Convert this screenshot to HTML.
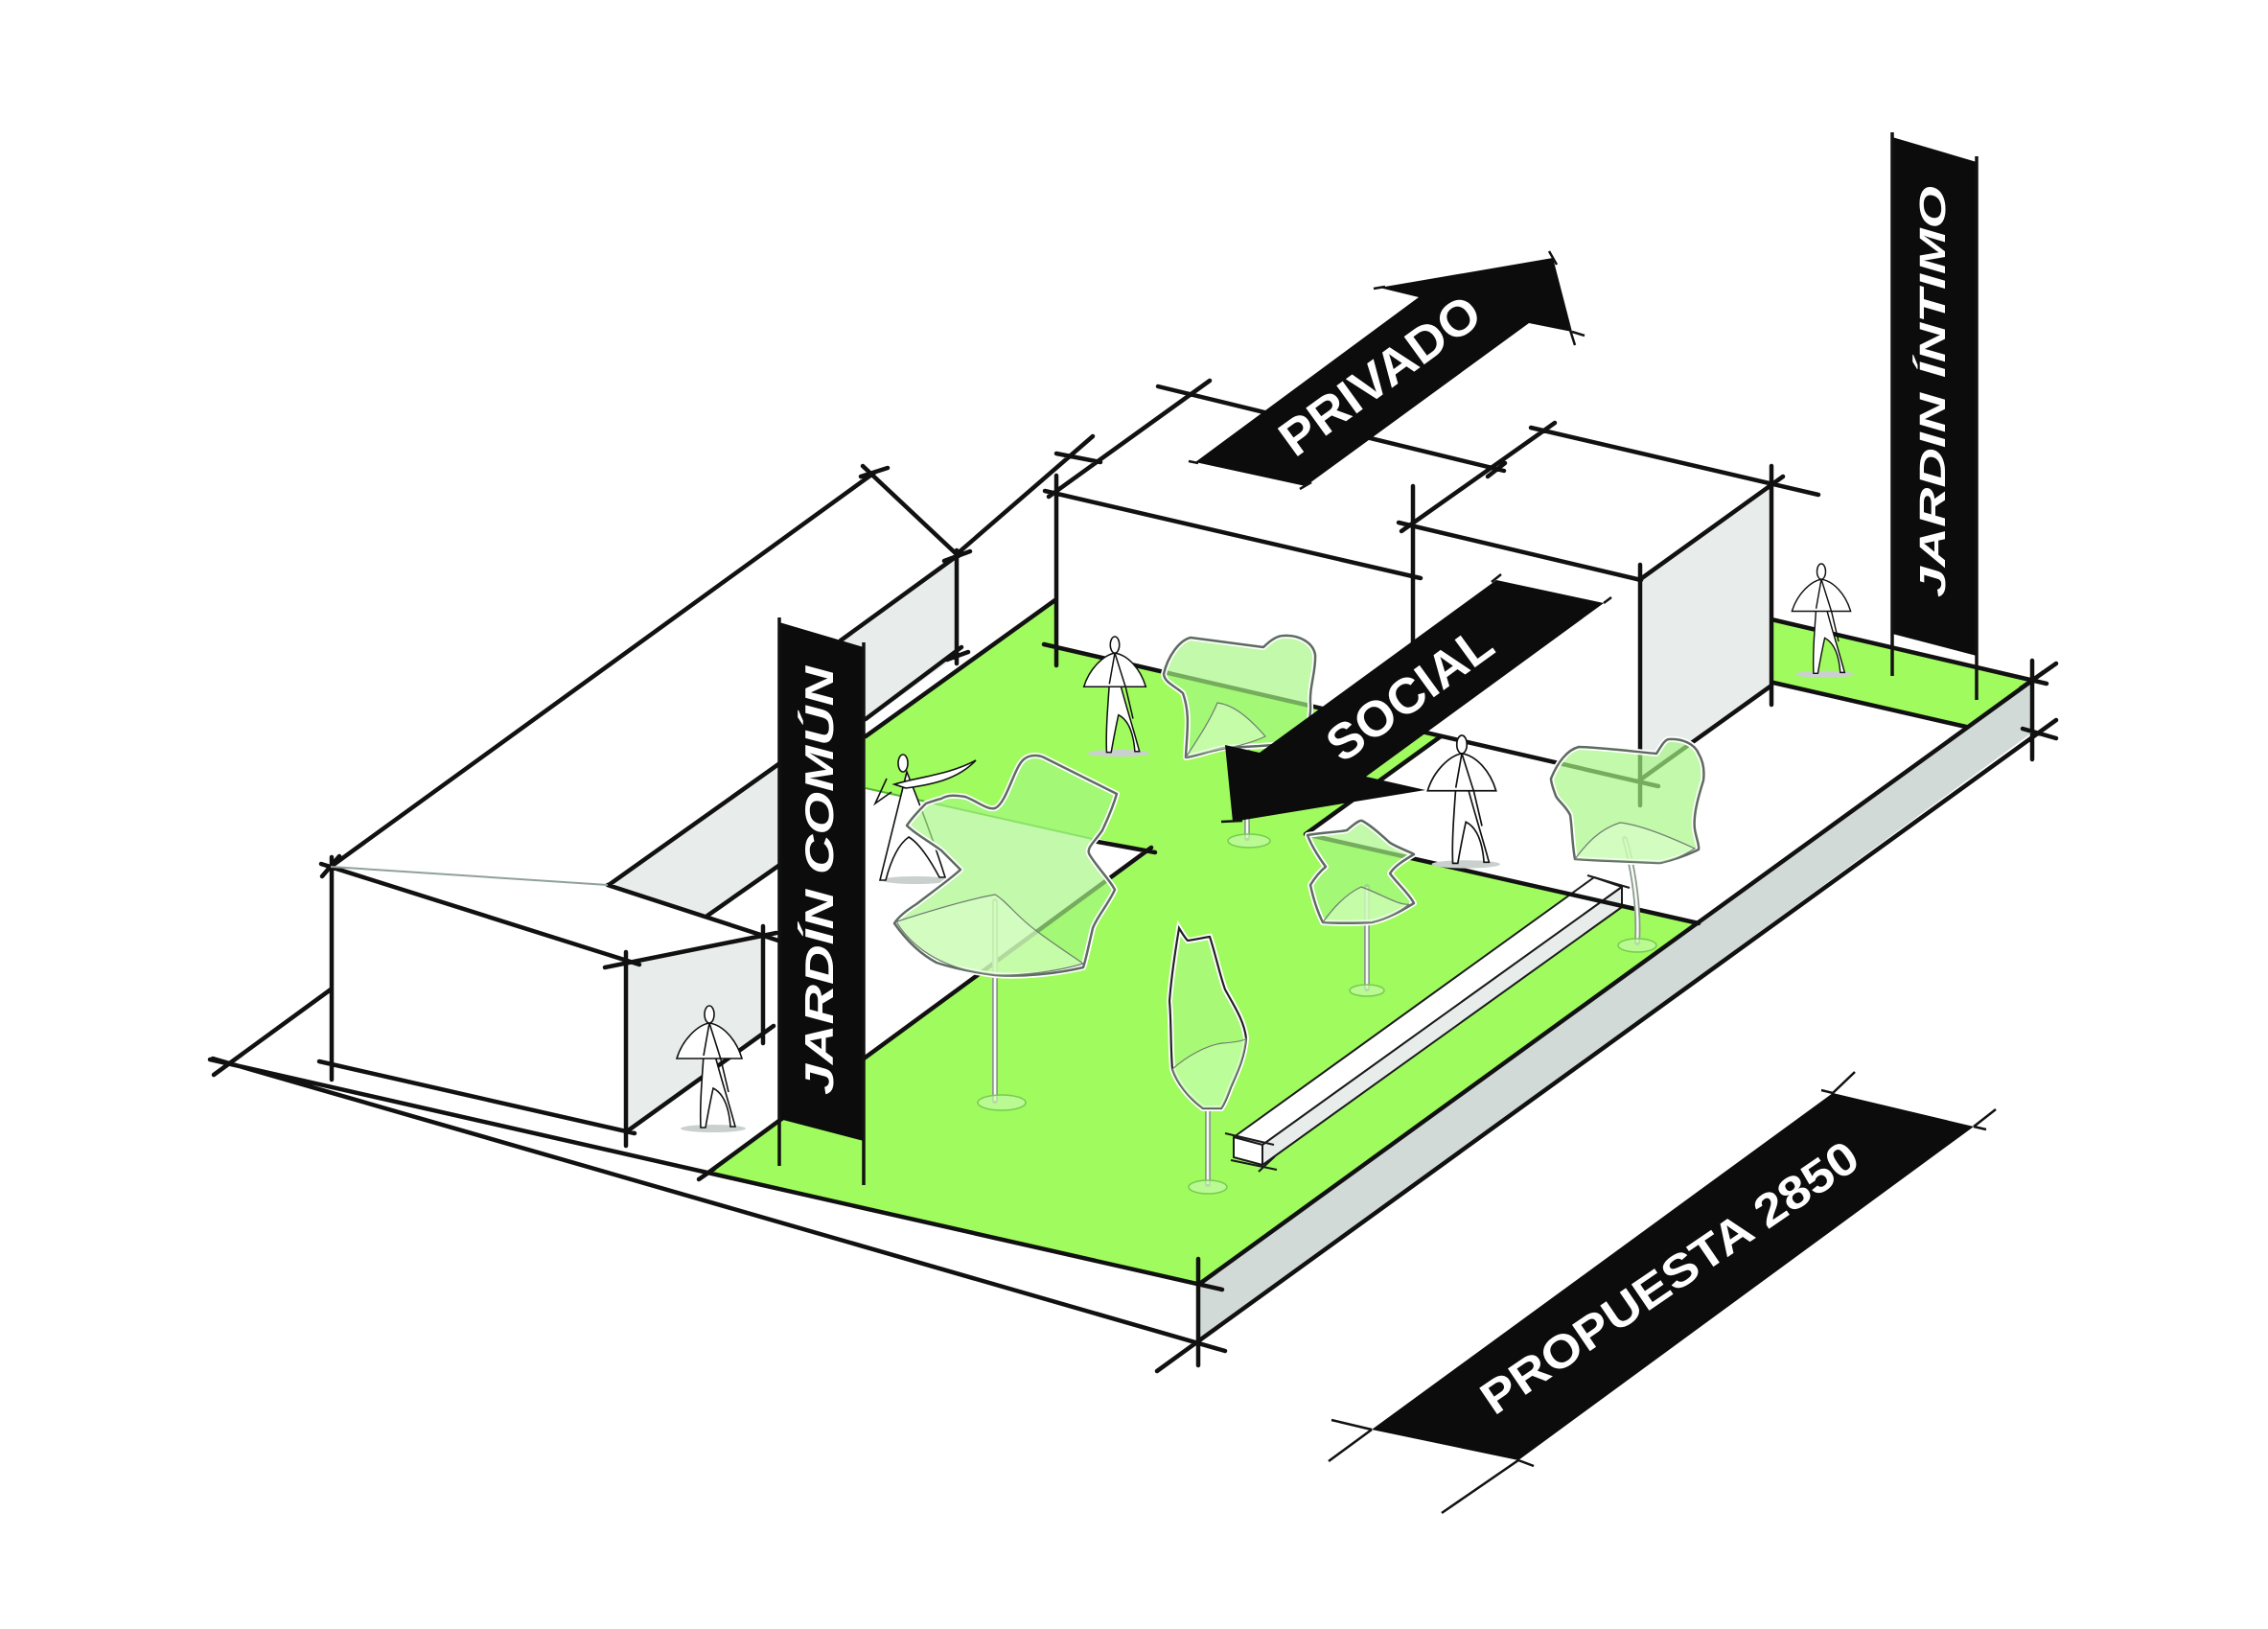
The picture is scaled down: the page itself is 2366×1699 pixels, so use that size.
<!DOCTYPE html>
<html>
<head>
<meta charset="utf-8">
<style>
html,body{margin:0;padding:0;background:#fff;}
svg{display:block;}
</style>
</head>
<body>
<svg width="2366" height="1699" viewBox="0 0 2366 1699" xmlns="http://www.w3.org/2000/svg">
<defs>
<g id="fig">
<ellipse cx="4" cy="128" rx="34" ry="4" fill="#c9d0ce"/>
<path d="M-6,52 C-8,80 -10,105 -9,127 L-4,127 C-1,110 2,95 4,86 C12,90 20,100 22,126 L27,126 C20,100 12,75 6,52 Z" fill="#fff" stroke="#111" stroke-width="1.6"/>
<path d="M-34,55 C-28,35 -12,20 0,18 C14,20 28,35 34,55 Z" fill="#fff" stroke="#111" stroke-width="1.6"/>
<path d="M0,18 L-6,52 M0,18 L12,56 L20,90" fill="none" stroke="#111" stroke-width="1.6"/>
<ellipse cx="0" cy="9" rx="5" ry="9" fill="#fff" stroke="#111" stroke-width="1.6"/>
</g>
<path id="c1" d="M982,833 C990,828 1000,830 1007,831 C1020,836 1030,845 1038,843 C1050,838 1058,800 1068,792 C1075,786 1085,788 1089,790 L1165,828 C1160,845 1155,855 1150,866 C1142,878 1132,885 1137,892 C1145,905 1158,918 1163,928 C1155,945 1145,955 1140,968 C1136,985 1133,1000 1130,1009 C1100,1016 1065,1019 1038,1017 C1015,1014 995,1010 977,1004 C960,995 945,980 933,963 C938,955 948,948 956,943 C970,932 990,918 1002,907 C995,900 988,893 982,887 C970,878 955,870 946,861 C952,852 962,842 966,838 C972,836 977,834 982,833 Z"/>
<path id="c2" d="M1214,703 C1218,685 1230,668 1242,665 C1265,668 1295,672 1318,675 C1325,668 1332,663 1339,663 C1355,662 1370,670 1372,683 C1373,700 1366,715 1367,734 C1368,750 1362,765 1359,774 C1335,777 1300,779 1277,780 C1262,783 1250,788 1237,790 C1238,765 1242,745 1234,723 C1225,715 1215,712 1214,703 Z"/>
<path id="c3" d="M1618,812 C1625,795 1635,782 1647,779 C1675,780 1705,784 1728,786 C1733,778 1737,771 1741,771 C1755,770 1768,776 1772,786 C1778,796 1778,806 1777,814 C1772,830 1766,850 1768,865 C1770,876 1773,882 1772,886 C1760,892 1745,897 1732,900 C1705,899 1670,898 1643,896 C1640,880 1640,862 1638,850 C1633,840 1625,835 1623,830 C1620,822 1618,816 1618,812 Z"/>
<path id="c4" d="M1364,871 C1380,868 1395,868 1405,866 C1412,860 1418,855 1421,856 C1432,862 1442,872 1450,879 C1460,885 1470,888 1475,891 C1465,897 1455,903 1450,911 C1458,922 1470,932 1475,942 C1462,950 1448,958 1431,962 C1412,963 1395,963 1380,962 C1374,950 1370,937 1367,923 C1372,915 1378,908 1383,904 C1375,893 1368,882 1364,871 Z"/>
<path id="c5" d="M1230,968 C1233,973 1236,978 1239,981 C1247,980 1255,978 1262,977 C1268,995 1272,1015 1278,1032 C1288,1050 1298,1065 1300,1083 C1298,1105 1290,1120 1284,1134 C1280,1145 1277,1152 1274,1156 L1255,1156 C1240,1145 1228,1130 1223,1115 C1221,1090 1222,1068 1220,1044 C1222,1018 1226,992 1230,968 Z"/>
</defs>

<rect x="0" y="0" width="2366" height="1699" fill="#fff"/>

<polygon points="739,1223 1250,1340 1772,961 1362,870 1503,768 1102,675 1102,625 903,768 903,1104" fill="#a0fb5e"/>
<polygon points="1848,646 2120,710 2051,758 1850,712" fill="#a0fb5e"/>
<polygon points="903,822 1201,887 903,1104" fill="#fff"/>

<polygon points="653,1004 796,974 796,1077 653,1180" fill="#e8edec"/>
<polygon points="635,923 815,795 815,901 738,955" fill="#e8edec"/>
<polygon points="815,713 998,580 998,684 815,816" fill="#e8edec"/>
<polygon points="1710,605 1848,506 1848,715 1710,814" fill="#e8edec"/>
<polygon points="1250,1340 2120,710 2120,764 1250,1400" fill="#d2dad8"/>

<g stroke="#1a1a1a" stroke-width="2" stroke-linejoin="round">
<polygon points="1287,1186 1663,915 1692,925 1317,1194" fill="#fff"/>
<polygon points="1317,1194 1692,925 1692,946 1317,1215" fill="#e8edec"/>
<polygon points="1287,1186 1317,1194 1317,1215 1287,1207" fill="#fff"/>
<path d="M1278,1182 L1329,1194 M1284,1210 L1332,1220 M1313,1222 L1330,1206 M1656,913 L1700,926" fill="none"/>
</g>

<path fill="none" stroke="#111" stroke-width="4.5" stroke-linecap="round" d="M335,901 L667,1006 M345,904 L912,493 M336,914 L354,893 M900,486 L1000,580 M898,497 L926,488 M998,578 L1140,455 M1102,473 L1148,482 M998,574 L998,692 M985,585 L1012,575 M998,580 L877,668 M1003,675 L903,750 M988,688 L1010,680 M903,768 L1102,625 M635,923 L815,795 M738,955 L815,901 M634,923 L812,981 M631,1009 L810,973 M346,894 L346,1126 M653,993 L653,1195 M796,966 L796,1088 M333,1107 L662,1182 M654,1180 L807,1070 M223,1121 L345,1032 M219,1105 L1275,1345 M222,1104 L1278,1409 M739,1223 L1201,884 M1140,877 L1205,889 M729,1230 L745,1219 M1102,496 L1102,694 M1090,512 L1482,603 M1094,518 L1262,397 M1208,403 L1569,491 M1552,497 L1570,483 M1089,672 L1730,820 M1474,507 L1474,700 M1459,545 L1712,605 M1622,441 L1462,554 M1597,446 L1897,516 M1710,605 L1860,497 M1711,589 L1711,840 M1848,486 L1848,735 M1848,715 L1710,814 M1848,646 L2135,713 M1850,712 L2051,758 M1362,870 L1772,963 M1503,768 L1362,870 M1250,1340 L2132,701 M1207,1430 L2145,751 M1250,1313 L1250,1424 M2120,689 L2120,792 M2108,718 L2145,692 M2110,760 L2145,770"/>
<path d="M903,822 L1140,875" stroke="#55b534" stroke-width="2" fill="none"/>
<path d="M345,904 L634,923" stroke="#90a09e" stroke-width="2" fill="none"/>

<use href="#fig" transform="translate(740,1049)"/>
<use href="#fig" transform="translate(1163,664) scale(0.95)"/>
<use href="#fig" transform="translate(1525,767) scale(1.05)"/>
<use href="#fig" transform="translate(1900,588) scale(0.9)"/>
<g stroke="#111" stroke-width="1.6" fill="#fff">
<ellipse cx="955" cy="918" rx="35" ry="4" fill="#c9d0ce" stroke="none"/>
<path d="M946,805 L918,918 L924,918 C930,895 938,880 948,873 C960,880 972,900 980,915 L986,915 C975,880 960,840 946,805 Z"/>
<path d="M933,818 C960,810 990,808 1018,793 C1000,812 975,818 945,822 Z"/>
<path d="M925,812 L913,838 L930,826" fill="none"/>
<ellipse cx="942" cy="796" rx="5" ry="9"/>
</g>

<g stroke="#8f9792" stroke-width="6" fill="none" stroke-linecap="round">
<path d="M1038,940 L1038,1148"/>
<path d="M1301,782 L1301,874"/>
<path d="M1695,875 C1705,910 1710,950 1708,983"/>
<path d="M1426,925 L1426,1031"/>
<path d="M1260,1156 L1260,1235"/>
</g>
<g stroke="#f4fff0" stroke-width="2.5" fill="none">
<path d="M1038,940 L1038,1148"/>
<path d="M1301,782 L1301,874"/>
<path d="M1695,875 C1705,910 1710,950 1708,983"/>
<path d="M1426,925 L1426,1031"/>
<path d="M1260,1156 L1260,1235"/>
</g>
<g fill="rgba(195,250,170,0.7)" stroke="#74cc4e" stroke-width="1.5">
<ellipse cx="1045" cy="1150" rx="25" ry="8"/>
<ellipse cx="1303" cy="877" rx="22" ry="7"/>
<ellipse cx="1708" cy="986" rx="20" ry="7"/>
<ellipse cx="1426" cy="1033" rx="18" ry="6"/>
<ellipse cx="1260" cy="1238" rx="20" ry="7"/>
</g>

<g fill="rgba(165,246,130,0.68)" stroke="#fff" stroke-width="6" stroke-linejoin="round">
<use href="#c1"/><use href="#c2"/><use href="#c3"/><use href="#c4"/>
</g>
<g fill="none" stroke="#5e6b60" stroke-width="2.5" stroke-linejoin="round">
<use href="#c1"/><use href="#c2"/><use href="#c3"/><use href="#c4"/>
</g>
<g fill="rgba(225,255,210,0.55)" stroke="#6f7d72" stroke-width="1.2">
<path d="M936,961 C970,950 1010,938 1038,933 C1050,940 1060,955 1080,970 C1100,985 1120,998 1130,1005 C1100,1014 1060,1018 1038,1017 C1000,1013 960,1000 936,963 Z"/>
<path d="M1237,790 C1250,770 1262,752 1270,733 C1285,735 1300,745 1320,768 C1300,778 1270,782 1237,790 Z"/>
<path d="M1643,896 C1655,880 1668,865 1690,858 C1710,860 1740,872 1768,885 C1755,893 1745,897 1732,900 Z"/>
<path d="M1380,962 C1392,945 1405,932 1420,925 C1440,932 1460,945 1470,943 C1455,955 1440,960 1431,962 Z"/>
</g>
<use href="#c5" fill="rgba(175,248,140,0.5)" stroke="#fff" stroke-width="6"/>
<use href="#c5" fill="none" stroke="#222" stroke-width="2.2"/>
<path d="M1223,1115 C1240,1100 1260,1090 1275,1088 C1290,1087 1298,1085 1300,1083 C1298,1105 1290,1120 1284,1134 C1280,1145 1277,1152 1274,1156 L1255,1156 C1240,1145 1228,1130 1223,1115 Z" fill="rgba(200,255,175,0.6)" stroke="#6f7d72" stroke-width="1.2"/>

<polygon points="1247,482 1362,507 1595,337 1640,346 1620,269 1439,300 1480,310" fill="#0b0c0b"/>
<path d="M1433,301 L1445,299 M1640,346 L1653,350 M1636,338 L1643,360 M1616,262 L1624,276 M1240,481 L1250,483 M1356,510 L1368,503" stroke="#111" stroke-width="2.5" fill="none"/>
<text transform="translate(1450,406) rotate(-36)" text-anchor="middle" font-family="'Liberation Sans', sans-serif" font-weight="bold" font-size="52" fill="#fff" textLength="245" lengthAdjust="spacingAndGlyphs">PRIVADO</text>

<polygon points="1561,605 1673,629 1425,810 1487,824 1286,857 1278,777 1314,785" fill="#0b0c0b"/>
<path d="M1556,607 L1566,599 M1673,629 L1681,623 M1274,857 L1296,856" stroke="#111" stroke-width="2.5" fill="none"/>
<text transform="translate(1481,738) rotate(-36)" text-anchor="middle" font-family="'Liberation Sans', sans-serif" font-weight="bold" font-size="52" fill="#fff" textLength="200" lengthAdjust="spacingAndGlyphs">SOCIAL</text>

<polygon points="813,649 901,675 901,1190 813,1167" fill="#0b0c0b"/>
<path d="M813,644 L813,1216 M901,670 L901,1236" stroke="#111" stroke-width="3.5" fill="none"/>
<text transform="translate(869,1142) rotate(-90)" font-family="'Liberation Sans', sans-serif" font-weight="bold" font-style="italic" font-size="42" fill="#fff" textLength="447" lengthAdjust="spacingAndGlyphs">JARDÍN COMÚN</text>

<polygon points="1974,143 2062,169 2062,684 1974,661" fill="#0b0c0b"/>
<path d="M1974,138 L1974,705 M2062,163 L2062,730" stroke="#111" stroke-width="3.5" fill="none"/>
<text transform="translate(2029,623) rotate(-90)" font-family="'Liberation Sans', sans-serif" font-weight="bold" font-style="italic" font-size="38" fill="#fff" textLength="429" lengthAdjust="spacingAndGlyphs">JARDIN ÍNTIMO</text>

<polygon points="1912,1140 2059,1175 1584,1523 1431,1491" fill="#0b0c0b"/>
<path d="M1912,1140 L1935,1118 M2059,1175 L2082,1157 M1389,1481 L1431,1491 M1431,1491 L1386,1524 M1584,1523 L1600,1529 M1584,1523 L1504,1578 M1900,1137 L1912,1140 M2059,1175 L2072,1178" stroke="#111" stroke-width="2.5" fill="none"/>
<text transform="translate(1751,1346) rotate(-34.3)" text-anchor="middle" font-family="'Liberation Sans', sans-serif" font-weight="bold" font-size="48" fill="#fff" textLength="465" lengthAdjust="spacingAndGlyphs">PROPUESTA 2850</text>
</svg>
</body>
</html>
